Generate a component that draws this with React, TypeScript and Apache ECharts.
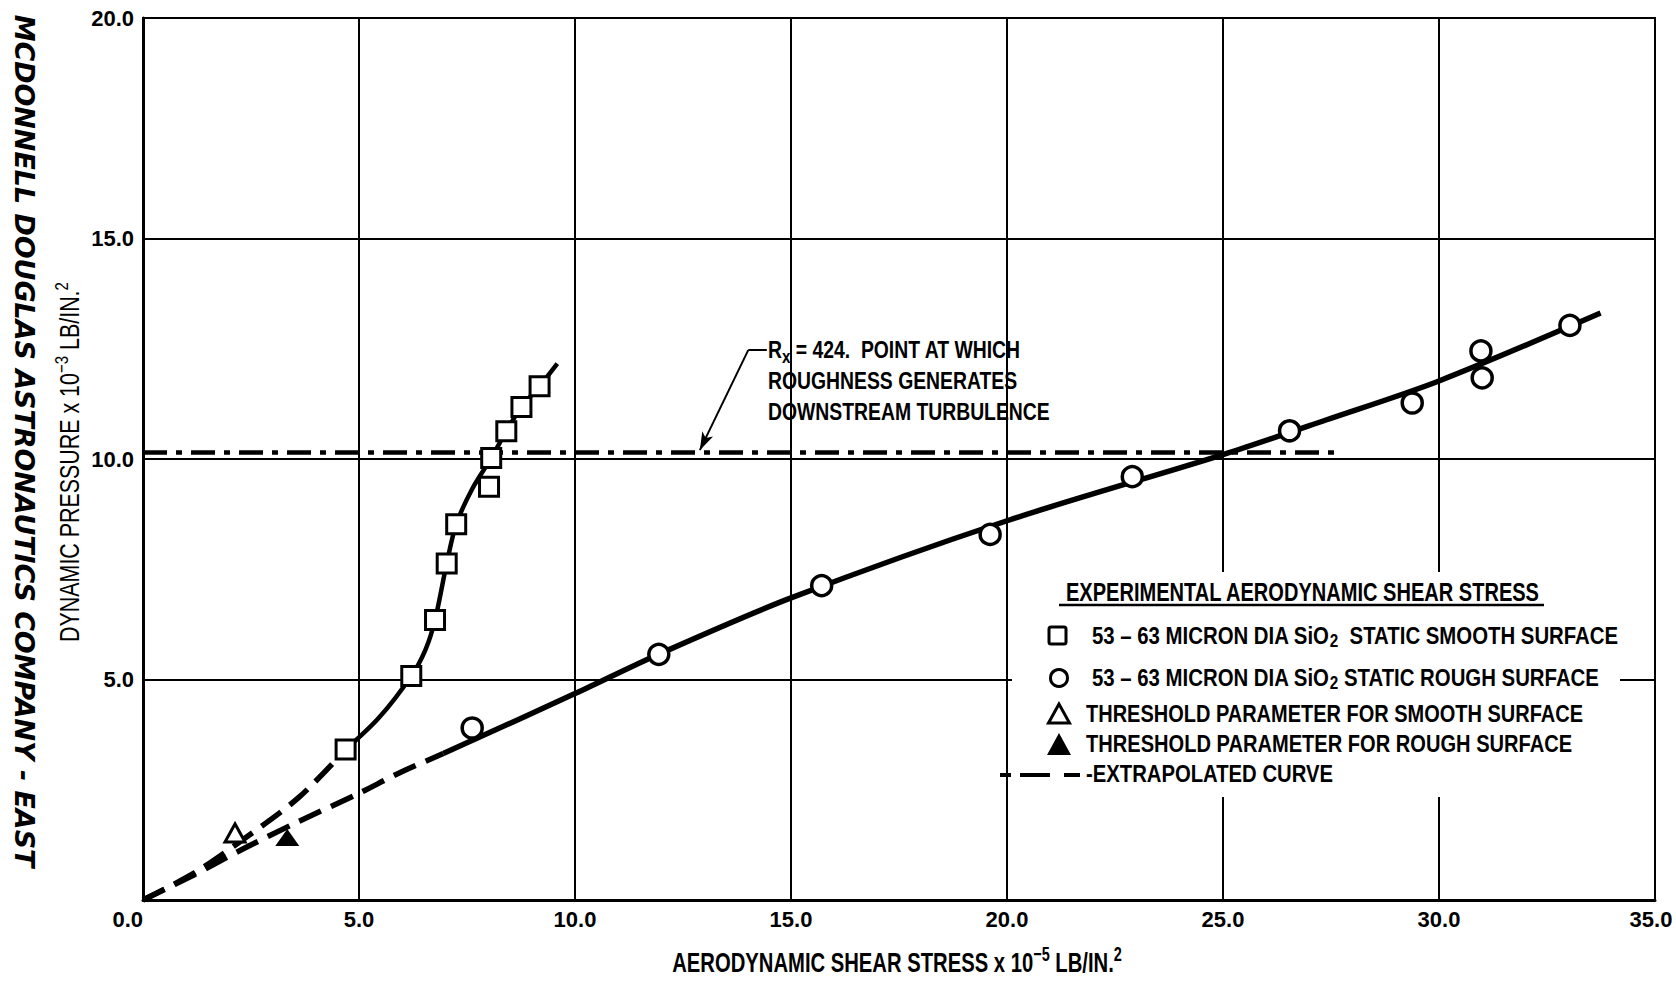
import React, { useEffect, useRef } from 'react';
import * as echarts from 'echarts';

const FONT = "'Liberation Sans', 'Arial', sans-serif";
const CREDIT_FONT = "'DejaVu Sans', sans-serif";

// axis ranges
const X_MIN = 0;
const X_MAX = 35;
const X_STEP = 5;
const Y_MIN = 0;
const Y_MAX = 20;
const Y_STEP = 5;

// smooth surface, measured points (squares)
const smoothSquareX = [4.69, 6.21, 6.76, 7.03, 7.25, 8.01, 8.06, 8.41, 8.76, 9.18];
const smoothSquareY = [3.41, 5.08, 6.35, 7.63, 8.52, 9.37, 10.02, 10.63, 11.18, 11.65];
// smooth surface, faired curve
const smoothCurveX = [4.69, 5.46, 6.21, 6.54, 6.76, 7.03, 7.25, 7.62, 8.06, 8.41, 8.76, 9.18, 9.59];
const smoothCurveY = [3.41, 4.13, 5.08, 5.68, 6.35, 7.63, 8.52, 9.32, 10.02, 10.63, 11.18, 11.65, 12.16];
// smooth surface, extrapolated
const smoothExtrapX = [0, 1.2, 2.3, 3.6, 4.69];
const smoothExtrapY = [0, 0.62, 1.36, 2.32, 3.41];

// rough surface, measured points (circles)
const roughCircleX = [7.62, 11.94, 15.71, 19.61, 22.9, 26.54, 29.38, 30.97, 31.0, 33.03];
const roughCircleY = [3.9, 5.57, 7.13, 8.29, 9.6, 10.64, 11.27, 12.45, 11.84, 13.03];
// rough surface, faired curve
const roughCurveX = [6.95, 10.0, 12.0, 15.0, 20.0, 25.0, 27.4, 30.0, 33.74];
const roughCurveY = [3.32, 4.68, 5.6, 6.85, 8.6, 10.1, 10.89, 11.77, 13.31];
// rough surface, extrapolated
const roughExtrapX = [0, 1.2, 2.3, 3.6, 5.0, 5.93, 6.95];
const roughExtrapY = [0, 0.58, 1.15, 1.78, 2.42, 2.88, 3.32];

// threshold parameters
const thresholdSmooth = [2.13, 1.52];
const thresholdRough = [3.34, 1.42];

// Rx = 424 turbulence level
const turbulenceX = [0, 27.7];
const turbulenceY = [10.15, 10.15];

// annotation leader (elbow + arrow)
const leaderX = [14.44, 14.01, 12.89];
const leaderY = [12.47, 12.47, 10.2];

// texts
const X_TITLE = 'AERODYNAMIC SHEAR STRESS x 10{sup|−5} LB/IN.{sup|2}';
const Y_TITLE = 'DYNAMIC PRESSURE x 10{sup|−3} LB/IN.{sup|2}';
const CREDIT = 'MCDONNELL DOUGLAS ASTRONAUTICS COMPANY - EAST';
const LEGEND_TITLE = 'EXPERIMENTAL AERODYNAMIC SHEAR STRESS';
const NOTE_LINES = ['R{sub|x} = 424.  POINT AT WHICH', 'ROUGHNESS GENERATES', 'DOWNSTREAM TURBULENCE'];
const legendRows = [
  { y: 636, x: 1092, w: 526, text: '53 – 63 MICRON DIA SiO{sub|2}  STATIC SMOOTH SURFACE' },
  { y: 678, x: 1092, w: 507, text: '53 – 63 MICRON DIA SiO{sub|2} STATIC ROUGH SURFACE' },
  { y: 714, x: 1086, w: 497, text: 'THRESHOLD PARAMETER FOR SMOOTH SURFACE' },
  { y: 744, x: 1086, w: 486, text: 'THRESHOLD PARAMETER FOR ROUGH SURFACE' },
  { y: 774, x: 1086, w: 247, text: '-EXTRAPOLATED CURVE' },
];

const zip = (xs: number[], ys: number[]) => xs.map((x, i) => [x, ys[i]]);
const BLACK = '#000';

let ctx: CanvasRenderingContext2D | null = null;
function tw(text: string, font: string) {
  if (!ctx) ctx = document.createElement('canvas').getContext('2d');
  if (!ctx || !text) return 0;
  ctx.font = font;
  return ctx.measureText(text).width;
}
function richWidth(text: string, base: string, fonts: Record<string, string>) {
  const re = /\{(\w+)\|([^}]*)\}/g;
  let w = 0;
  let last = 0;
  let m: RegExpExecArray | null;
  while ((m = re.exec(text))) {
    w += tw(text.slice(last, m.index), base);
    w += tw(m[2], fonts[m[1]] || base);
    last = re.lastIndex;
  }
  w += tw(text.slice(last), base);
  return w;
}
const fnt = (weight: string, size: number, fam = FONT, style = 'normal') => `${style} ${weight} ${size}px ${fam}`;

function buildOption() {
  const LEG = 24;
  const SUB = 18;
  const subRich = {
    sub: { fontSize: SUB, fontFamily: FONT, fontWeight: 'bold', fill: BLACK, verticalAlign: 'bottom', lineHeight: 10 },
  };
  const legFont = fnt('bold', LEG);
  const subFont = fnt('bold', SUB);

  const TITLE = 25;
  const titleScale = 474 / tw(LEGEND_TITLE, fnt('bold', TITLE));

  const NOTE = 23;
  const noteScale = 282 / tw(NOTE_LINES[2], fnt('bold', NOTE));

  const XT = 28;
  const XSUP = 20;
  const xtScale = 450 / richWidth(X_TITLE, fnt('bold', XT), { sup: fnt('bold', XSUP) });

  const YT = 27;
  const YSUP = 19;
  const ytScale = 360 / richWidth(Y_TITLE, fnt('normal', YT), { sup: fnt('normal', YSUP) });

  const CR = 27;
  const crScale = 853 / tw(CREDIT, fnt('bold', CR, CREDIT_FONT, 'italic'));

  const graphic: any[] = [
    // legend background (interrupts grid lines)
    { type: 'rect', z: 50, shape: { x: 1012, y: 572, width: 608, height: 225 }, style: { fill: '#fff' } },
    {
      type: 'text', z: 51, x: 1066, y: 592, scaleX: titleScale,
      style: { text: LEGEND_TITLE, fontFamily: FONT, fontWeight: 'bold', fontSize: TITLE, fill: BLACK, align: 'left', verticalAlign: 'middle' },
    },
    { type: 'line', z: 51, shape: { x1: 1059, y1: 605, x2: 1544, y2: 605 }, style: { stroke: BLACK, lineWidth: 2.5 } },
    { type: 'rect', z: 51, shape: { x: 1049, y: 627, width: 17, height: 17, r: 2 }, style: { fill: '#fff', stroke: BLACK, lineWidth: 3 } },
    { type: 'circle', z: 51, shape: { cx: 1059, cy: 678, r: 8.5 }, style: { fill: '#fff', stroke: BLACK, lineWidth: 3 } },
    { type: 'polygon', z: 51, shape: { points: [[1059, 704], [1048.5, 723], [1069.5, 723]] }, style: { fill: '#fff', stroke: BLACK, lineWidth: 3 } },
    { type: 'polygon', z: 51, shape: { points: [[1059, 733], [1047, 755], [1071, 755]] }, style: { fill: BLACK } },
    { type: 'line', z: 51, shape: { x1: 1000, y1: 775, x2: 1011, y2: 775 }, style: { stroke: BLACK, lineWidth: 4 } },
    { type: 'line', z: 51, shape: { x1: 1020, y1: 775, x2: 1050, y2: 775 }, style: { stroke: BLACK, lineWidth: 4 } },
    { type: 'line', z: 51, shape: { x1: 1064, y1: 775, x2: 1080, y2: 775 }, style: { stroke: BLACK, lineWidth: 4 } },
    ...legendRows.map((r) => ({
      type: 'text', z: 51, x: r.x, y: r.y,
      scaleX: r.w / richWidth(r.text, legFont, { sub: subFont }),
      style: {
        text: r.text, fontFamily: FONT, fontWeight: 'bold', fontSize: LEG, fill: BLACK,
        align: 'left', verticalAlign: 'middle', lineHeight: 28, rich: subRich,
      },
    })),
    // annotation text
    {
      type: 'text', z: 51, x: 768, y: 335, scaleX: noteScale,
      style: {
        text: NOTE_LINES.join('\n'),
        fontFamily: FONT, fontWeight: 'bold', fontSize: NOTE, fill: BLACK,
        align: 'left', verticalAlign: 'top', lineHeight: 31, rich: subRich,
      },
    },
    // x axis title
    {
      type: 'text', z: 51, x: 897, y: 962, scaleX: xtScale,
      style: {
        text: X_TITLE, fontFamily: FONT, fontWeight: 'bold', fontSize: XT, fill: BLACK,
        align: 'center', verticalAlign: 'middle', lineHeight: 36,
        rich: { sup: { fontSize: XSUP, fontFamily: FONT, fontWeight: 'bold', fill: BLACK, verticalAlign: 'top', lineHeight: 19 } },
      },
    },
    // y axis title
    {
      type: 'text', z: 51, x: 70, y: 462, rotation: Math.PI / 2, scaleX: ytScale,
      style: {
        text: Y_TITLE, fontFamily: FONT, fontWeight: 'normal', fontSize: YT, fill: BLACK,
        align: 'center', verticalAlign: 'middle', lineHeight: 36,
        rich: { sup: { fontSize: YSUP, fontFamily: FONT, fontWeight: 'normal', fill: BLACK, verticalAlign: 'top', lineHeight: 18 } },
      },
    },
    // company credit
    {
      type: 'text', z: 51, x: 25, y: 441, rotation: -Math.PI / 2, scaleX: crScale,
      style: {
        text: CREDIT, fontFamily: CREDIT_FONT, fontWeight: 'bold', fontStyle: 'italic', fontSize: CR,
        fill: BLACK, align: 'center', verticalAlign: 'middle',
      },
    },
  ];

  const tickLabel = {
    color: BLACK, fontFamily: FONT, fontWeight: 'bold', fontSize: 22,
  };

  return {
    animation: false,
    backgroundColor: '#fff',
    grid: {
      left: 143, right: 21, top: 18, bottom: 81,
      show: true, borderColor: BLACK, borderWidth: 2,
      containLabel: false, outerBoundsMode: 'none',
    },
    xAxis: {
      type: 'value', min: X_MIN, max: X_MAX, interval: X_STEP,
      axisLine: { show: true, onZero: false, lineStyle: { color: BLACK, width: 3 } },
      axisTick: { show: false },
      splitLine: { show: true, lineStyle: { color: BLACK, width: 2 } },
      axisLabel: {
        ...tickLabel, margin: 8, alignMinLabel: 'right',
        formatter: (v: number) => (v === X_MAX ? `{max|${v.toFixed(1)}}` : v.toFixed(1)),
        rich: { max: { ...tickLabel, padding: [0, 8, 0, 0] } },
      },
    },
    yAxis: {
      type: 'value', min: Y_MIN, max: Y_MAX, interval: Y_STEP,
      axisLine: { show: true, onZero: false, lineStyle: { color: BLACK, width: 3 } },
      axisTick: { show: false },
      splitLine: { show: true, lineStyle: { color: BLACK, width: 2 } },
      axisLabel: {
        ...tickLabel, margin: 9, showMinLabel: false,
        formatter: (v: number) => v.toFixed(1),
      },
    },
    graphic,
    series: [
      {
        type: 'line', name: 'Rx = 424', data: zip(turbulenceX, turbulenceY), symbol: 'none', z: 3,
        lineStyle: { color: BLACK, width: 4.5, type: [24, 9, 6, 9] },
        markLine: {
          silent: true, animation: false, label: { show: false },
          lineStyle: { color: BLACK, width: 2, type: 'solid' },
          data: [
            [
              { coord: [leaderX[0], leaderY[0]], symbol: 'none' },
              { coord: [leaderX[1], leaderY[1]], symbol: 'none' },
            ],
            [
              { coord: [leaderX[1], leaderY[1]], symbol: 'none' },
              { coord: [leaderX[2], leaderY[2]], symbol: 'arrow', symbolSize: [9, 18] },
            ],
          ],
        },
      },
      {
        type: 'line', name: 'smooth extrapolated', data: zip(smoothExtrapX, smoothExtrapY), symbol: 'none', smooth: 0.3, z: 3,
        lineStyle: { color: BLACK, width: 5.5, type: [24, 11] },
      },
      {
        type: 'line', name: 'rough extrapolated', data: zip(roughExtrapX, roughExtrapY), symbol: 'none', smooth: 0.3, z: 3,
        lineStyle: { color: BLACK, width: 5.5, type: [24, 11] },
      },
      {
        type: 'line', name: 'smooth curve', data: zip(smoothCurveX, smoothCurveY), symbol: 'none', smooth: 0.3, z: 3,
        lineStyle: { color: BLACK, width: 4.5 },
      },
      {
        type: 'line', name: 'rough curve', data: zip(roughCurveX, roughCurveY), symbol: 'none', smooth: 0.3, z: 3,
        lineStyle: { color: BLACK, width: 5.5 },
      },
      {
        type: 'scatter', name: 'smooth surface', data: zip(smoothSquareX, smoothSquareY), symbol: 'rect', symbolSize: 19, z: 5,
        itemStyle: { color: '#fff', borderColor: BLACK, borderWidth: 3, opacity: 1 },
      },
      {
        type: 'scatter', name: 'rough surface', data: zip(roughCircleX, roughCircleY), symbol: 'circle', symbolSize: 20, z: 5,
        itemStyle: { color: '#fff', borderColor: BLACK, borderWidth: 3.5, opacity: 1 },
      },
      {
        type: 'scatter', name: 'threshold smooth', data: [thresholdSmooth], symbol: 'triangle', symbolSize: [20, 18], z: 5,
        itemStyle: { color: '#fff', borderColor: BLACK, borderWidth: 3, opacity: 1 },
      },
      {
        type: 'scatter', name: 'threshold rough', data: [thresholdRough], symbol: 'triangle', symbolSize: [24, 17], z: 5,
        itemStyle: { color: BLACK, opacity: 1 },
      },
    ],
  };
}

export default function App() {
  const ref = useRef<HTMLDivElement>(null);
  useEffect(() => {
    if (!ref.current) return;
    const chart = echarts.init(ref.current, null, { renderer: 'svg' });
    chart.setOption(buildOption() as any);
    return () => chart.dispose();
  }, []);
  return (
    <div
      ref={ref}
      style={{ position: 'fixed', left: 0, top: 0, width: 1676, height: 981, background: '#fff' }}
    />
  );
}
